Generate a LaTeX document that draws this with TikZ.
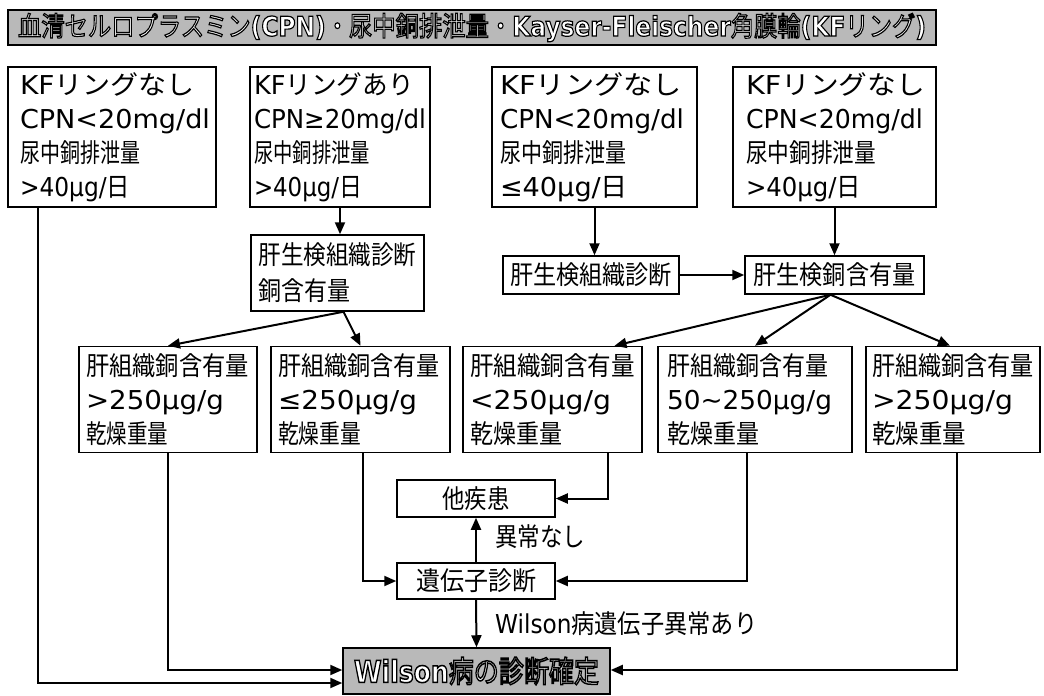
\documentclass[tikz,border=0pt]{standalone}
\usepackage{fontspec}
\setmainfont{Noto Sans CJK JP}
\newfontfamily\lf{DejaVu Sans}
\usepackage{graphicx}
\usetikzlibrary{arrows.meta}
\newcommand{\fw}[2]{\resizebox{#1pt}{\height}{#2}}
\newcommand{\la}[1]{{\lf\fontsize{26}{34}\selectfont #1}}
\newcommand{\lb}[1]{{\lf\bfseries #1}}
\newcommand{\oltxt}[2]{\textcolor{white}{\special{pdf:literal direct 2 Tr 0 G #1 w}#2\special{pdf:literal direct 0 Tr}}}
\begin{document}
\begin{tikzpicture}[x=1pt,y=-1pt,
  box/.style={draw=black, line width=1.5pt, fill=white, inner ysep=0pt, align=left,
    font=\fontsize{26}{34}\selectfont},
  cbox/.style={draw=black, line width=1.5pt, fill=white, inner sep=0pt, align=center,
    font=\fontsize{26}{34}\selectfont},
  shaded/.style={draw=black, line width=1.5pt, fill=gray!55, inner sep=0pt, align=center},
  lab/.style={inner sep=0pt, anchor=west, font=\fontsize{26}{30}\selectfont},
  arr/.style={line width=2pt, -{Triangle[length=12pt,width=10pt]}},
  ]
\useasboundingbox (0,0) rectangle (1044,696);
\fill[white] (0,0) rectangle (1044,696);

% title bar
\node[shaded, minimum width=928pt, minimum height=35pt,
  font=\fontsize{27}{30}\selectfont] (title) at (472,27.5)
  {\oltxt{1.2}{\fw{908}{血清セルロプラスミン\lb{(CPN)}・尿中銅排泄量・\lb{Kayser-Fleischer}角膜輪\lb{(KF}リング\lb{)}}}};

% top row
\node[box, minimum height=140pt, text width=184pt, inner xsep=12pt] (b1) at (112,137)
  {\fw{175}{\la{KF}リングなし}\\ \fw{190}{\la{CPN<20mg/dl}}\\ \fw{120}{尿中銅排泄量}\\ \fw{110}{\la{>40μg/}日}};
\node[box, minimum height=140pt, text width=172pt, inner xsep=4pt] (b2) at (340,137)
  {\fw{160}{\la{KF}リングあり}\\ \fw{172}{\la{CPN≥20mg/dl}}\\ \fw{116}{尿中銅排泄量}\\ \fw{108}{\la{>40μg/}日}};
\node[box, minimum height=140pt, text width=189pt, inner xsep=8pt] (b3) at (594.5,137)
  {\fw{182}{\la{KF}リングなし}\\ \fw{184}{\la{CPN<20mg/dl}}\\ \fw{126}{尿中銅排泄量}\\ \fw{128}{\la{≤40μg/}日}};
\node[box, minimum height=140pt, text width=177pt, inner xsep=13pt] (b4) at (834.5,137)
  {\fw{179}{\la{KF}リングなし}\\ \fw{177}{\la{CPN<20mg/dl}}\\ \fw{130}{尿中銅排泄量}\\ \fw{115}{\la{>40μg/}日}};

% biopsy boxes
\node[box, minimum height=76pt, text width=158pt, inner xsep=7.5pt,
  font=\fontsize{26}{36}\selectfont] (h1) at (337.5,273)
  {\fw{158}{肝生検組織診断}\\ \fw{92}{銅含有量}};
\node[cbox, minimum width=176pt, minimum height=38pt] (h2) at (591,275)
  {\fw{162}{肝生検組織診断}};
\node[cbox, minimum width=179pt, minimum height=38pt] (h3) at (834.5,275)
  {\fw{162}{肝生検銅含有量}};

% middle row
\node[box, minimum height=106pt, text width=164pt, inner xsep=7pt] (m1) at (168,399.5)
  {\fw{163}{肝組織銅含有量}\\ \fw{138}{\la{>250μg/g}}\\ \fw{82}{乾燥重量}};
\node[box, minimum height=106pt, text width=165pt, inner xsep=7pt] (m2) at (360.5,399.5)
  {\fw{162}{肝組織銅含有量}\\ \fw{139}{\la{≤250μg/g}}\\ \fw{83}{乾燥重量}};
\node[box, minimum height=106pt, text width=165pt, inner xsep=7pt] (m3) at (552.5,399.5)
  {\fw{165}{肝組織銅含有量}\\ \fw{141}{\la{<250μg/g}}\\ \fw{92}{乾燥重量}};
\node[box, minimum height=106pt, text width=176pt, inner xsep=9pt] (m4) at (755,399.5)
  {\fw{161}{肝組織銅含有量}\\ \fw{165}{\la{50\textasciitilde250μg/g}}\\ \fw{92}{乾燥重量}};
\node[box, minimum height=106pt, text width=162pt, inner xsep=6pt] (m5) at (953,399.5)
  {\fw{162}{肝組織銅含有量}\\ \fw{141}{\la{>250μg/g}}\\ \fw{94}{乾燥重量}};

% bottom
\node[cbox, minimum width=158pt, minimum height=37pt] (o) at (476,498.5) {\fw{67}{他疾患}};
\node[cbox, minimum width=158pt, minimum height=36pt] (g) at (476,581) {\fw{120}{遺伝子診断}};
\node[shaded, minimum width=267pt, minimum height=46pt,
  font=\fontsize{30}{32}\selectfont] (W) at (476.5,671)
  {\oltxt{1.5}{\fw{245}{\lb{Wilson}病の診断確定}}};

\node[lab] (l1) at (495,537) {\fw{90}{異常なし}};
\node[lab] (l2) at (495,624) {\fw{262}{\la{Wilson}病遺伝子異常あり}};

% connectors
\draw[arr] (b2.south) -- (b2.south |- h1.north);
\draw[arr] (b3.south) -- (b3.south |- h2.north);
\draw[arr] (b4.south) -- (b4.south |- h3.north);
\draw[arr] (h2.east) -- (h3.west);
\draw[arr] ([xshift=6pt]h1.south) -- (m1.north);
\draw[arr] ([xshift=6pt]h1.south) -- (m2.north);
\draw[arr] ([xshift=-4pt]h3.south) -- ([xshift=62pt]m3.north);
\draw[arr] ([xshift=-4pt]h3.south) -- (m4.north);
\draw[arr] ([xshift=-4pt]h3.south) -- ([xshift=-3pt]m5.north);
\draw[arr] ([xshift=-74pt]b1.south) |- ([yshift=-12pt]W.west);
\draw[arr] (m1.south) |- ([yshift=1pt]W.west);
\draw[arr] ([xshift=2.5pt]m2.south) |- (g.west);
\draw[arr] ([xshift=55.5pt]m3.south) |- (o.east);
\draw[arr] ([xshift=-8pt]m4.south) |- (g.east);
\draw[arr] ([xshift=4pt]m5.south) |- ([yshift=1pt]W.east);
\draw[arr] (g.north) -- (o.south);
\draw[arr] (g.south) -- (W.north);
\end{tikzpicture}
\end{document}
